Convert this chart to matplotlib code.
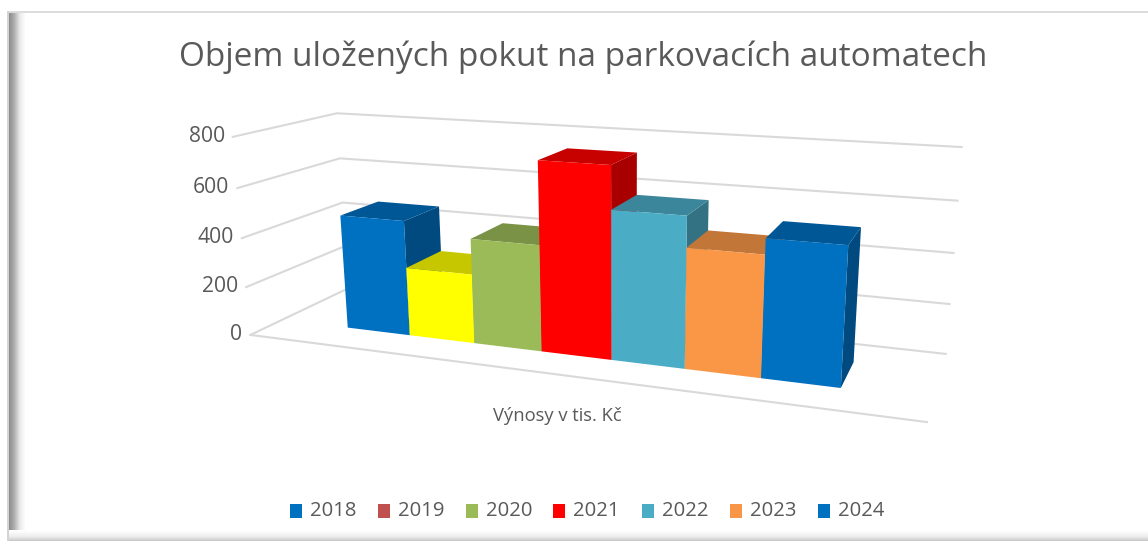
import numpy as np
import matplotlib
matplotlib.use("Agg")
import matplotlib.pyplot as plt
from matplotlib.colors import to_rgb
from matplotlib.patches import Polygon, Rectangle

plt.rcParams['font.family'] = ['Open Sans', 'DejaVu Sans']

title = "Objem uložených pokut na parkovacích automatech"
axis_label = "Výnosy v tis. Kč"
years = ["2018", "2019", "2020", "2021", "2022", "2023", "2024"]
values = [470, 280, 422, 745, 580, 462, 521]
bar_colors = ["#0070C0", "#FFFF00", "#9BBB59", "#FF0000", "#4BACC6", "#F99747", "#0070C0"]
legend_colors = ["#0070C0", "#C0504D", "#9BBB59", "#FF0000", "#4BACC6", "#F79646", "#0070C0"]
ticks = [0, 200, 400, 600, 800]

TEXT = "#595959"
GRID = "#d9d9d9"
VMAX = 800.0

# Camera of the 3D chart box: box corner (u, depth, value) -> figure pixel
calib = [((0, 0, 0), (250, 335)), ((0, 0, 800), (233, 137)), ((0, 1, 0), (349, 288)),
         ((0, 1, 800), (337, 113)), ((1, 1, 0), (946, 354)), ((1, 1, 800), (962, 147)),
         ((1, 0, 0), (927, 422)), ((0, 0, 400), (242, 238)), ((1, 1, 400), (953, 253)),
         ((0, 1, 400), (342, 203))]
rows = []
for (u, d, v), (x, y) in calib:
    w = v / VMAX
    rows.append([u, d, w, 1, 0, 0, 0, 0, -x * u, -x * d, -x * w, -x])
    rows.append([0, 0, 0, 0, u, d, w, 1, -y * u, -y * d, -y * w, -y])
P = np.linalg.svd(np.array(rows, float))[2][-1].reshape(3, 4)


def proj(u, d, v):
    q = P @ np.array([u, d, v / VMAX, 1.0])
    return q[0] / q[2], q[1] / q[2]


def shade(c, f):
    return tuple(f * np.array(to_rgb(c)))


fig = plt.figure(figsize=(11.48, 5.41), dpi=100)
ax = fig.add_axes([0, 0, 1, 1])
ax.set_xlim(0, 1148)
ax.set_ylim(541, 0)
ax.axis("off")

# Picture frame with soft shadows
ax.add_patch(Rectangle((7, 11), 1141, 2.2, color="#dcdcdc", lw=0, zorder=1))
ax.add_patch(Rectangle((7, 11), 2, 530, color="#d4d4d4", lw=0, zorder=1))
left = np.interp(np.linspace(0, 1, 64), [0, .3, .65, 1], [.55, .68, .92, 1.0])[None, :]
ax.imshow(left, extent=(9, 26, 541, 13), cmap="gray", vmin=0, vmax=1, aspect="auto", zorder=1)
bottom = np.interp(np.linspace(0, 1, 32), [0, .6, 1], [1.0, .93, .78])[:, None]
ax.imshow(bottom, extent=(9, 1148, 541, 530), cmap="gray", vmin=0, vmax=1, aspect="auto", zorder=1)
ax.set_xlim(0, 1148)
ax.set_ylim(541, 0)

# Walls' grid lines
for t in ticks:
    a, b, c = proj(0, 0, t), proj(0, 1, t), proj(1, 1, t)
    ax.plot([a[0], b[0], c[0]], [a[1], b[1], c[1]], color=GRID, lw=1.5, zorder=2,
            solid_joinstyle="miter")
    ax.text(a[0] - 8, a[1] - 0.5, str(t), ha="right", va="center", fontsize=15.2,
            color=TEXT, zorder=5)
a, b = proj(0, 0, 0), proj(1, 0, 0)
ax.plot([a[0], b[0]], [a[1], b[1]], color=GRID, lw=1.5, zorder=2)

# Bars
U0, DU = 0.119, 0.1087
D0, D1 = 0.30, 0.70
for i, (val, col) in enumerate(zip(values, bar_colors)):
    u0, u1 = U0 + i * DU, U0 + (i + 1) * DU
    top = [proj(u0, D0, val), proj(u1, D0, val), proj(u1, D1, val), proj(u0, D1, val)]
    side = [proj(u1, D0, 0), proj(u1, D1, 0), proj(u1, D1, val), proj(u1, D0, val)]
    front = [proj(u0, D0, 0), proj(u1, D0, 0), proj(u1, D0, val), proj(u0, D0, val)]
    z = 3 + i * 0.1
    ax.add_patch(Polygon(side, closed=True, fc=shade(col, 0.66), ec="none", zorder=z))
    ax.add_patch(Polygon(top, closed=True, fc=shade(col, 0.78), ec="none", zorder=z))
    ax.add_patch(Polygon(front, closed=True, fc=col, ec="none", zorder=z))

# Texts
ax.text(583.5, 57, title, ha="center", va="center", fontsize=24, color=TEXT, zorder=6)
ax.text(557, 416, axis_label, ha="center", va="center", fontsize=13.2, color=TEXT, zorder=6)

# Legend
lx = [290, 378, 466, 553, 642, 730, 818]
for x0, lab, col in zip(lx, years, legend_colors):
    ax.add_patch(Rectangle((x0, 504), 12, 14, fc=col, ec="none", zorder=6))
    ax.text(x0 + 20, 511, lab, ha="left", va="center", fontsize=14.6, color=TEXT, zorder=6)

fig.savefig("out.png", dpi=100)
